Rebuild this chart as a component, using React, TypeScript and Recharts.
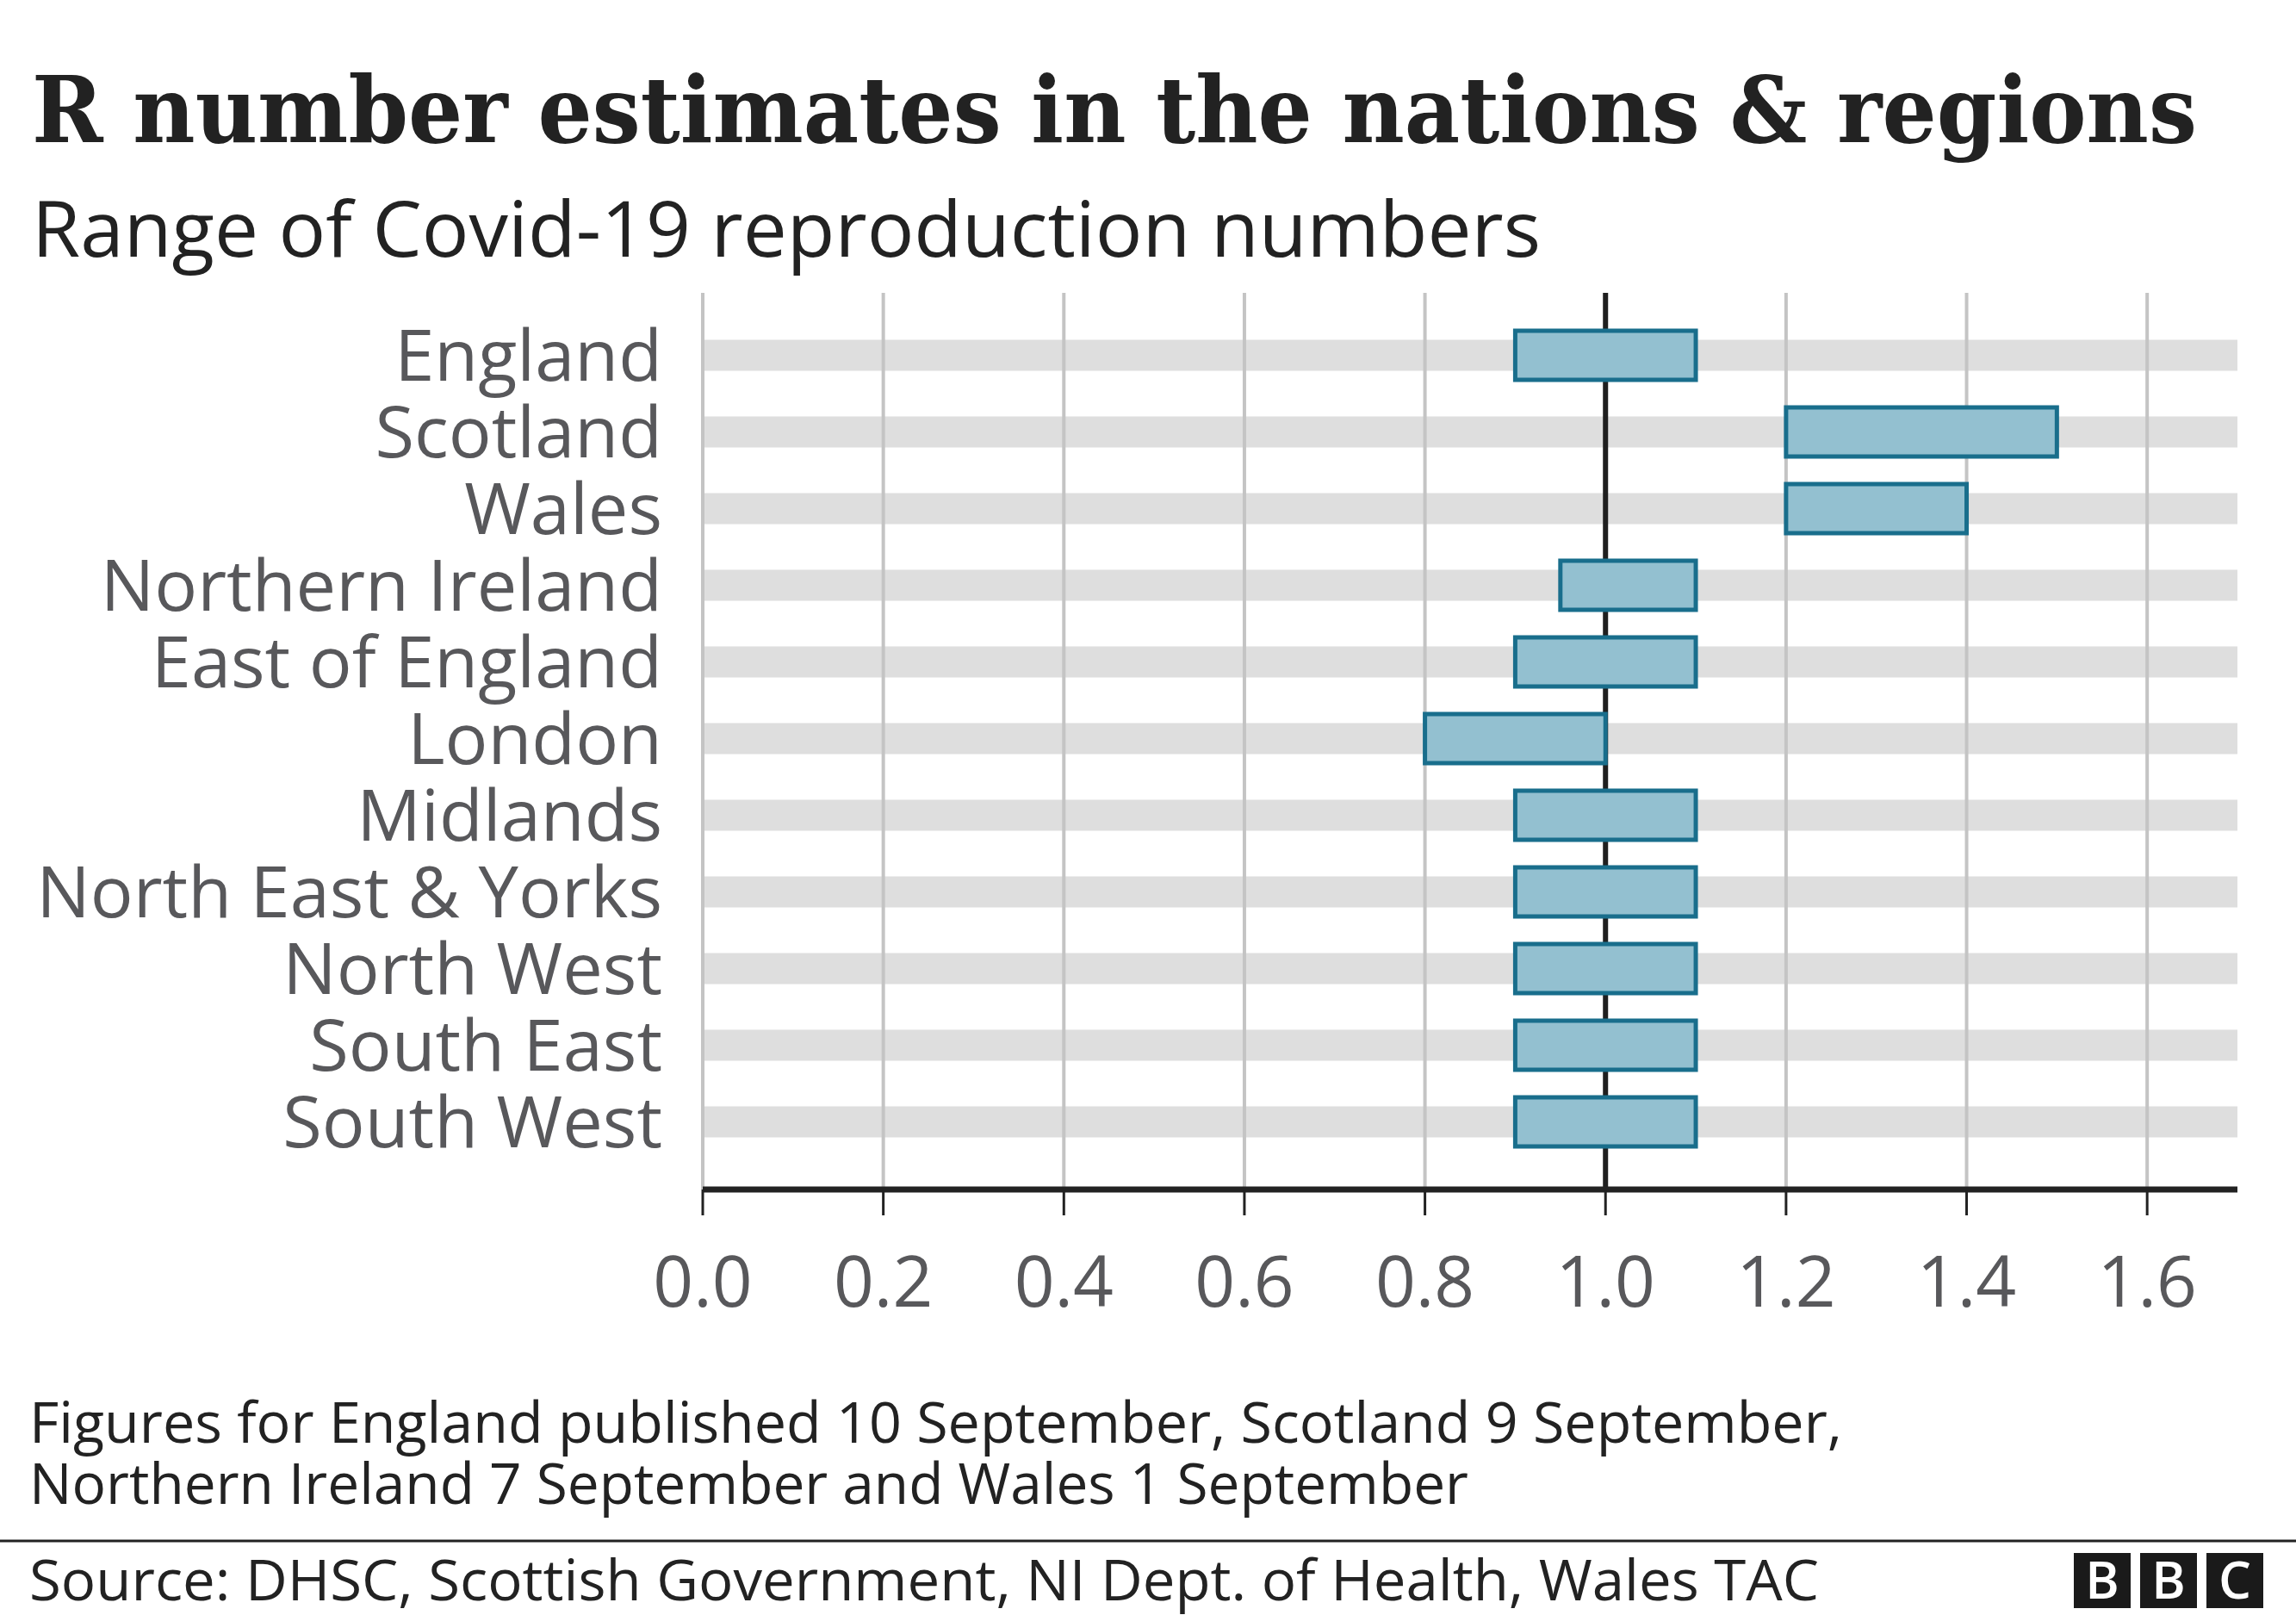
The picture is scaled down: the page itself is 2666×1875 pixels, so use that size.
import React from 'react'
import { BarChart, Bar, XAxis, YAxis, ReferenceLine } from 'recharts'

const regions = [
  'England',
  'Scotland',
  'Wales',
  'Northern Ireland',
  'East of England',
  'London',
  'Midlands',
  'North East & Yorks',
  'North West',
  'South East',
  'South West',
]
const lowValues = [0.9, 1.2, 1.2, 0.95, 0.9, 0.8, 0.9, 0.9, 0.9, 0.9, 0.9]
const highValues = [1.1, 1.5, 1.4, 1.1, 1.1, 1.0, 1.1, 1.1, 1.1, 1.1, 1.1]
const xTicks = [0, 0.2, 0.4, 0.6, 0.8, 1.0, 1.2, 1.4, 1.6]

const title = 'R number estimates in the nations & regions'
const subtitle = 'Range of Covid-19 reproduction numbers'
const noteLines = [
  'Figures for England published 10 September, Scotland 9 September,',
  'Northern Ireland 7 September and Wales 1 September',
]
const source = 'Source: DHSC, Scottish Government, NI Dept. of Health, Wales TAC'

const SANS = '"Open Sans", "Noto Sans", sans-serif'
const LABEL = '#58585b'

// grey track behind each row, thinner than the range box
const Track = (props: any) => {
  const h = 36
  return (
    <rect
      x={props.x}
      y={props.y + (props.height - h) / 2}
      width={props.width}
      height={h}
      fill="#dedede"
    />
  )
}

const BbcLogo = () => (
  <g>
    {['B', 'B', 'C'].map((ch, i) => (
      <g key={i}>
        <rect x={2408 + i * 77} y={1803} width={66} height={64} fill="#1a1a1a" />
        <text
          x={2408 + i * 77 + 33}
          y={1856}
          textAnchor="middle"
          fontFamily={SANS}
          fontWeight={600}
          fontSize={60}
          fill="#fff"
        >
          {ch}
        </text>
      </g>
    ))}
  </g>
)

export default function App() {
  const data = regions.map((name, i) => ({
    name,
    range: [lowValues[i], highValues[i]],
  }))

  return (
    <div
      style={{
        position: 'absolute',
        left: 0,
        top: 0,
        width: 2666,
        height: 1875,
        background: '#fff',
        overflow: 'hidden',
      }}
    >
      <svg
        width={2666}
        height={1875}
        style={{ position: 'absolute', left: 0, top: 0 }}
      >
        <text
          x={37}
          y={165}
          fontFamily='"DejaVu Serif", serif'
          fontWeight="bold"
          fontSize={106}
          textLength={2514}
          lengthAdjust="spacingAndGlyphs"
          fill="#222"
        >
          {title}
        </text>
        <text
          x={37}
          y={298}
          fontFamily={SANS}
          fontSize={90}
          textLength={1752}
          lengthAdjust="spacingAndGlyphs"
          fill="#222"
        >
          {subtitle}
        </text>
        <text
          x={34}
          y={1675}
          fontFamily={SANS}
          fontSize={66}
          textLength={2105}
          lengthAdjust="spacingAndGlyphs"
          fill="#222"
        >
          {noteLines[0]}
        </text>
        <text
          x={34}
          y={1746}
          fontFamily={SANS}
          fontSize={66}
          textLength={1671}
          lengthAdjust="spacingAndGlyphs"
          fill="#222"
        >
          {noteLines[1]}
        </text>
        <line x1={0} x2={2666} y1={1789} y2={1789} stroke="#222" strokeWidth={3} />
        <text
          x={34}
          y={1858}
          fontFamily={SANS}
          fontSize={66}
          textLength={2078}
          lengthAdjust="spacingAndGlyphs"
          fill="#222"
        >
          {source}
        </text>
        <BbcLogo />
      </svg>

      <div style={{ position: 'absolute', left: 0, top: 340 }}>
        <BarChart
          width={2666}
          height={1201}
          data={data}
          layout="vertical"
          margin={{ top: 0, right: 68, bottom: 0, left: 0 }}
        >
          <XAxis
            type="number"
            domain={[0, 1.7]}
            ticks={xTicks}
            tickFormatter={(v: number) => v.toFixed(1)}
            height={160}
            axisLine={{ stroke: '#222', strokeWidth: 7 }}
            tickLine={{ stroke: '#222', strokeWidth: 3 }}
            tickSize={30}
            tickMargin={48}
            tick={{ fontSize: 82, fill: LABEL, fontFamily: SANS }}
            allowDataOverflow
          />
          <YAxis
            type="category"
            dataKey="name"
            width={816}
            axisLine={false}
            tickLine={false}
            tickSize={0}
            tickMargin={47}
            padding={{ top: 28, bottom: 34 }}
            interval={0}
            tick={{ fontSize: 83, fill: LABEL, fontFamily: SANS }}
          />
          {xTicks
            .filter((t) => t !== 1)
            .map((t) => (
              <ReferenceLine
                key={t}
                x={t}
                stroke="#c4c4c4"
                strokeWidth={4}
                zIndex={250}
              />
            ))}
          <ReferenceLine x={1} stroke="#1f1f1f" strokeWidth={6} zIndex={260} />
          <Bar
            dataKey="range"
            barSize={57}
            fill="#93c0d0"
            stroke="#196e8c"
            strokeWidth={5}
            background={(p: any) => <Track {...p} />}
            isAnimationActive={false}
          />
        </BarChart>
      </div>
    </div>
  )
}
